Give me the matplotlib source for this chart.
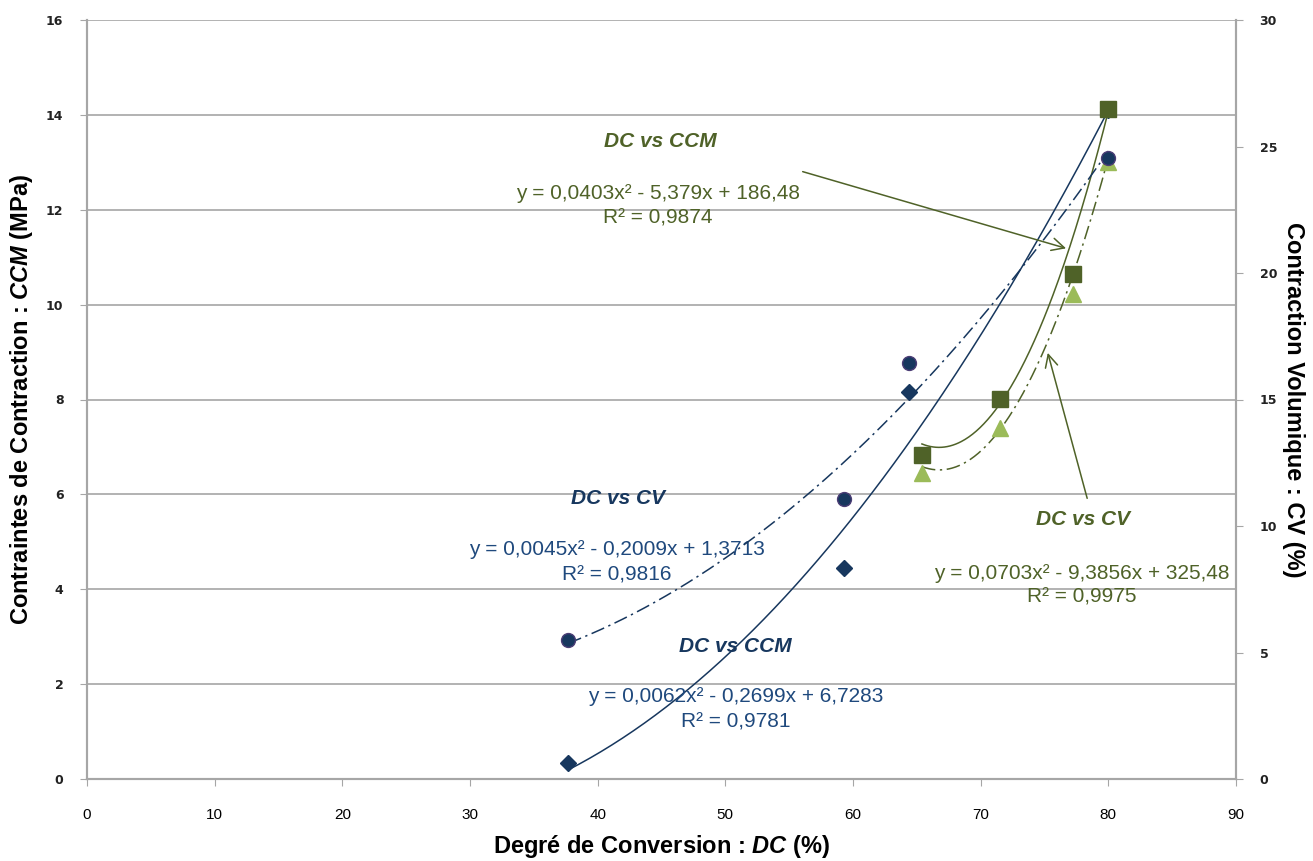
import matplotlib
matplotlib.use('Agg')
import matplotlib.pyplot as plt
from matplotlib import font_manager
import numpy as np

# data
dc_blue = [37.7, 59.3, 64.4, 80.0]
ccm_blue = [0.33, 4.44, 8.16, 14.1]        # diamonds, left axis
cv_blue = [5.49, 11.06, 16.46, 24.53]      # circles, right axis

dc_green = [65.4, 71.5, 77.2, 80.0]
ccm_green = [6.83, 8.02, 10.64, 14.12]     # squares, left axis
cv_green = [12.08, 13.86, 19.17, 24.4]     # triangles, right axis

# trendline coefficients shown in the chart (a, b, c)
fit_blue_ccm = [0.0045, -0.2009, 1.3713]
fit_blue_cv = [0.0062, -0.2699, 6.7283]
fit_green_ccm = [0.0403, -5.379, 186.48]
fit_green_cv = [0.0703, -9.3856, 325.48]

x_ticks = list(range(0, 91, 10))
left_ticks = list(range(0, 17, 2))
right_ticks = list(range(0, 31, 5))

NAVY = '#17375E'
BLUE_TXT = '#1F497D'
OLIVE = '#4F6228'
LIGHT_GREEN = '#9BBB59'
GRID = '#A6A6A6'

names = {f.name for f in font_manager.fontManager.ttflist}
narrow = 'Liberation Sans Narrow' if 'Liberation Sans Narrow' in names else 'Liberation Sans'

plt.rcParams['mathtext.fontset'] = 'custom'
plt.rcParams['mathtext.rm'] = narrow + ':bold'
plt.rcParams['mathtext.it'] = narrow + ':bold:italic'

fig = plt.figure(figsize=(13.13, 8.61), dpi=100)
ax = fig.add_axes([87 / 1313, 1 - 779 / 861, (1236 - 87) / 1313, (779 - 20) / 861])
ax2 = ax.twinx()

ax.set_xlim(0, 90)
ax.set_ylim(0, 16)
ax2.set_ylim(0, 30)
ax.set_xticks(x_ticks)
ax.set_yticks(left_ticks)
ax2.set_yticks(right_ticks)

ax.grid(axis='y', color=GRID, lw=1.2)
ax.set_axisbelow(True)
for a in (ax, ax2):
    a.spines['top'].set_visible(False)
    for s in ('left', 'right', 'bottom'):
        a.spines[s].set_color(GRID)
        a.spines[s].set_linewidth(1.5)
ax.tick_params(axis='x', colors=GRID, length=5, pad=16, labelcolor='black',
               labelsize=11, labelfontfamily=narrow)
ax.tick_params(axis='y', colors=GRID, length=5, pad=12, labelcolor='#222222',
               labelsize=9)
ax2.tick_params(axis='y', colors=GRID, length=5, pad=12, labelcolor='#222222',
                labelsize=9)
for lab in ax.get_yticklabels() + ax2.get_yticklabels():
    lab.set_fontweight('bold')

# trendlines
xb = np.linspace(min(dc_blue), max(dc_blue), 200)
xg = np.linspace(min(dc_green), max(dc_green), 200)
dashdot = (0, (9, 3, 1.5, 3))
ax.plot(xb, np.polyval(fit_blue_ccm, xb), color=NAVY, lw=1.1)
ax2.plot(xb, np.polyval(fit_blue_cv, xb), color=NAVY, lw=1.1, ls=dashdot)
ax.plot(xg, np.polyval(fit_green_ccm, xg), color=OLIVE, lw=1.1)
ax2.plot(xg, np.polyval(fit_green_cv, xg), color=OLIVE, lw=1.1, ls=dashdot)

# markers
ax.plot(dc_blue, ccm_blue, 'D', color=NAVY, ms=8, ls='none')
ax.plot(dc_green, ccm_green, 's', color=OLIVE, ms=11, ls='none')
ax2.plot(dc_green, cv_green, '^', color=LIGHT_GREEN, ms=11, ls='none')
ax2.plot(dc_blue, cv_blue, 'o', color=NAVY, mec='#4B3D75', mew=1, ms=10, ls='none')

# annotations
lab_kw = dict(ha='center', va='center', fontsize=15, fontweight='bold',
              fontstyle='italic', family='Liberation Sans')
eq_kw = dict(ha='center', va='center', fontsize=15, family='Liberation Sans')

ax.text(44.9, 13.43, 'DC vs CCM', color=OLIVE, **lab_kw)
ax.text(44.7, 12.35, 'y = 0,0403x² - 5,379x + 186,48', color=OLIVE, **eq_kw)
ax.text(44.7, 11.83, 'R² = 0,9874', color=OLIVE, **eq_kw)

ax.text(41.6, 5.92, 'DC vs CV', color=NAVY, **lab_kw)
ax.text(41.5, 4.83, 'y = 0,0045x² - 0,2009x + 1,3713', color=BLUE_TXT, **eq_kw)
ax.text(41.5, 4.30, 'R² = 0,9816', color=BLUE_TXT, **eq_kw)

ax.text(50.8, 2.80, 'DC vs CCM', color=NAVY, **lab_kw)
ax.text(50.8, 1.73, 'y = 0,0062x² - 0,2699x + 6,7283', color=BLUE_TXT, **eq_kw)
ax.text(50.8, 1.20, 'R² = 0,9781', color=BLUE_TXT, **eq_kw)

ax.text(78.0, 5.46, 'DC vs CV', color=OLIVE, **lab_kw)
ax.text(77.9, 4.34, 'y = 0,0703x² - 9,3856x + 325,48', color=OLIVE, **eq_kw)
ax.text(77.9, 3.84, 'R² = 0,9975', color=OLIVE, **eq_kw)

arrow = dict(arrowstyle='->,head_length=0.9,head_width=0.45', color=OLIVE, lw=1.1)
ax.annotate('', xy=(76.9, 11.17), xytext=(55.85, 12.82), arrowprops=arrow)
ax.annotate('', xy=(75.2, 9.04), xytext=(78.4, 5.86), arrowprops=arrow)

# axis titles
ax.set_xlabel(r'Degré de Conversion : $\mathit{DC}$ (%)', fontsize=17,
              family=narrow, fontweight='bold', labelpad=8)
ax.set_ylabel(r'Contraintes de Contraction : $\mathit{CCM}$ (MPa)', fontsize=17,
              family=narrow, fontweight='bold', labelpad=8)
ax2.set_ylabel('Contraction Volumique : CV (%)', fontsize=17, family=narrow,
               fontweight='bold', rotation=270, labelpad=20)

fig.savefig('out.png', dpi=100)
